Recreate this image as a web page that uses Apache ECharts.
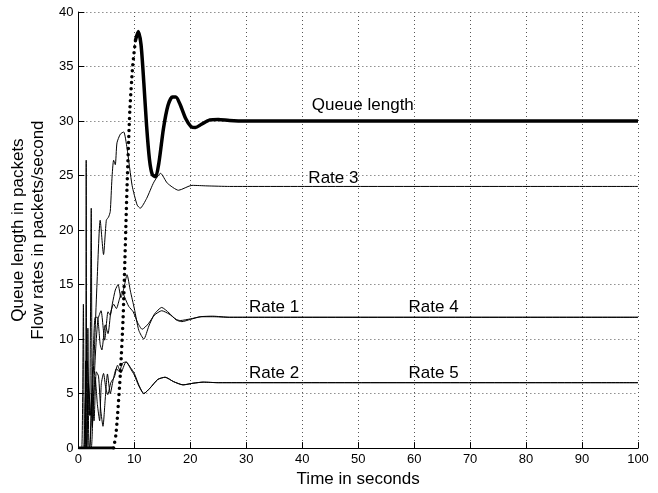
<!DOCTYPE html>
<html>
<head>
<meta charset="utf-8">
<script src="https://cdn.jsdelivr.net/npm/echarts@6/dist/echarts.min.js"></script>
<style>
  html, body { margin: 0; padding: 0; background: #fff; }
  #chart { width: 658px; height: 493px; }
</style>
</head>
<body>
<div id="chart"></div>
<script>
// [time (s), value] pairs
var queueLength = [[0,0],[6.3,0],[6.7,1.2],[7.0,3],[7.5,6.8],[8.0,12],[8.3,17],[8.7,24],[9.2,31],[9.7,35],[10.2,37.4],[10.7,38.2],
  [11.2,37],[11.7,33.5],[12.2,29.5],[12.7,26.5],[13.2,25.1],[13.8,24.9],[14.4,26.2],[15.2,29.3],[16,31.4],[16.8,32.2],[17.4,32.2],
  [18.2,31.5],[19.2,30.2],[20.1,29.5],[20.9,29.4],[22,29.7],[23.5,30.1],[25,30.15],[27,30.05],[30,30],[100,30]];

var rate1 = [[0,0],[0.9,0],[1.2,4],[1.6,8],[2.0,3],[2.3,22],[2.5,2],[2.8,6],[3.1,9.1],[3.5,11.8],[4.05,12.6],[4.7,9.9],[5.3,12.5],
  [5.7,12.2],[6.1,13.3],[6.6,14.5],[7.1,15.0],[7.6,13.8],[8.1,14.6],[8.7,15.9],[9.3,14.4],[10.0,12.8],[10.8,10.8],[11.7,10.0],
  [12.6,11.2],[13.6,12.3],[14.9,12.9],[16.2,12.4],[17.5,11.75],[18.5,11.6],[20,11.8],[21.8,12.05],[24,12.1],[27,12.0],[100,12]];

var rate2 = [[0,0],[1.5,0],[1.7,11],[1.9,0],[2.3,0],[2.6,3],[3.0,6.5],[3.4,4],[3.8,2.5],[4.1,5.9],[4.5,6.85],[4.9,5.5],[5.25,4.9],
  [5.8,6.0],[6.45,6.55],[7.0,7.6],[7.6,6.9],[8.5,7.9],[9.3,7.4],[10.0,6.85],[10.8,5.8],[11.7,5.0],[12.8,5.5],[14.2,6.3],[15.5,6.5],
  [17,6.1],[18.7,5.8],[20.5,5.95],[22.3,6.05],[25,6.0],[100,6]];

var rate3 = [[0,0],[1.2,0],[1.4,26.4],[1.55,0],[2.0,0],[2.4,4],[2.9,9.5],[3.3,14.7],[3.9,20.9],[4.5,17.75],[5.0,20.9],[5.4,21.2],
  [5.7,21.7],[6.0,24.7],[6.3,26.4],[6.6,26.0],[6.9,28.0],[7.5,28.8],[8.1,29.0],[8.7,27.5],[9.6,24.1],[10.5,22.3],[11.05,22.0],
  [12.2,22.9],[13.5,24.4],[14.7,25.2],[15.9,24.3],[17.9,23.65],[20.3,24.1],[23,24.05],[27,24.0],[100,24]];

var rate4 = [[0,0],[0.6,0],[0.9,13.2],[1.1,0],[1.4,0],[1.8,6],[2.2,3],[2.6,8],[3.0,12],[3.4,12],[3.9,9.5],[4.2,9.0],[4.8,11.3],
  [5.3,10.5],[5.8,12.5],[6.3,13.2],[6.8,12.8],[7.3,13.6],[7.8,14.4],[8.3,13.8],[9.0,13.0],[9.8,12.5],[10.6,11.5],[11.4,10.9],
  [12.5,11.4],[13.6,12.2],[14.9,12.6],[16.2,12.3],[17.5,11.8],[18.2,11.7],[20,11.85],[22,12.05],[24,12.05],[27,12.0],[100,12]];

var rate5 = [[0,0],[1.2,0],[1.3,8],[1.45,0],[2.0,0],[2.4,5],[2.8,2.5],[3.2,7.0],[3.6,6.6],[4.0,3.5],[4.4,2.0],[4.8,4.5],[5.2,6.8],
  [5.7,5.0],[6.2,6.2],[6.8,7.3],[7.3,7.0],[7.9,7.8],[8.6,7.9],[9.3,7.3],[10.0,6.7],[10.8,5.7],[11.7,5.0],[12.8,5.5],[14.2,6.3],
  [15.5,6.5],[17,6.1],[18.7,5.8],[20.5,5.95],[22.3,6.05],[25,6.0],[100,6]];

// text labels placed in data units: [time, value, text]
var annotations = [[41.7,31.45,'Queue length'],[41.1,24.7,'Rate 3'],[30.5,12.9,'Rate 1'],[59,12.9,'Rate 4'],
  [30.5,6.9,'Rate 2'],[59,6.9,'Rate 5']];

var xTicks = [0,10,20,30,40,50,60,70,80,90,100];
var yTicks = [0,5,10,15,20,25,30,35,40];

var FONT = '"Liberation Sans", Arial, Helvetica, sans-serif';

// queue is drawn solid where flat, dotted on the steep rise (like the marker trace)
function between (arr, lo, hi) {
  return arr.filter(function (p) { return p[0] >= lo && p[0] <= hi; });
}

function rateSeries (name, data) {
  return {
    name: name, type: 'line', data: data, smooth: 0.2,
    showSymbol: false, symbol: 'none',
    lineStyle: { color: '#000', width: 1 }, z: 3
  };
}

var chart = echarts.init(document.getElementById('chart'));

var option = {
  backgroundColor: '#fff',
  animation: false,
  textStyle: { fontFamily: FONT },
  grid: { left: 78, right: 20, top: 12, bottom: 41 },
  xAxis: {
    type: 'value', min: xTicks[0], max: xTicks[xTicks.length - 1], interval: 10,
    name: 'Time in seconds', nameLocation: 'middle', nameGap: 21,
    nameTextStyle: { color: '#000', fontSize: 17, fontFamily: FONT },
    axisLine: { show: true, lineStyle: { color: '#000', width: 1 } },
    axisTick: { show: true, inside: true, length: 6, lineStyle: { color: '#000' } },
    axisLabel: { color: '#000', fontSize: 13, margin: 5, fontFamily: FONT },
    splitLine: { show: true, lineStyle: { color: '#555', type: [1, 3], width: 1 } }
  },
  yAxis: {
    type: 'value', min: yTicks[0], max: yTicks[yTicks.length - 1], interval: 5,
    name: 'Queue length in packets\nFlow rates in packets/second',
    nameLocation: 'middle', nameGap: 28, nameRotate: 90,
    nameTextStyle: { color: '#000', fontSize: 17, lineHeight: 20, fontFamily: FONT },
    axisLine: { show: true, lineStyle: { color: '#000', width: 1 } },
    axisTick: { show: true, inside: true, length: 6, lineStyle: { color: '#000' } },
    axisLabel: { color: '#000', fontSize: 13, margin: 5, fontFamily: FONT },
    splitLine: { show: true, lineStyle: { color: '#555', type: [1, 3], width: 1 } }
  },
  series: [
    rateSeries('Rate 1', rate1),
    rateSeries('Rate 2', rate2),
    rateSeries('Rate 3', rate3),
    rateSeries('Rate 4', rate4),
    rateSeries('Rate 5', rate5),
    {
      name: 'Queue length', type: 'line', data: between(queueLength, 0, 6.3),
      showSymbol: false, symbol: 'none',
      lineStyle: { color: '#000', width: 3 }, z: 4
    },
    {
      name: 'Queue length', type: 'line', data: between(queueLength, 6.3, 10.2), smooth: 0.2,
      showSymbol: false, symbol: 'none',
      lineStyle: { color: '#000', width: 3.5, type: [0, 6], cap: 'round' }, z: 4
    },
    {
      name: 'Queue length', type: 'line', data: between(queueLength, 10.2, 100), smooth: 0.25,
      showSymbol: false, symbol: 'none',
      lineStyle: { color: '#000', width: 3.5 }, z: 4
    },
    {
      // text annotations
      type: 'scatter', data: annotations, symbolSize: 0, silent: true, z: 6,
      itemStyle: { opacity: 1 },
      label: {
        show: true, position: 'right', distance: 0, opacity: 1,
        color: '#000', fontSize: 17, fontFamily: FONT,
        formatter: function (p) { return p.data[2]; }
      }
    }
  ]
};

chart.setOption(option);
</script>
</body>
</html>
